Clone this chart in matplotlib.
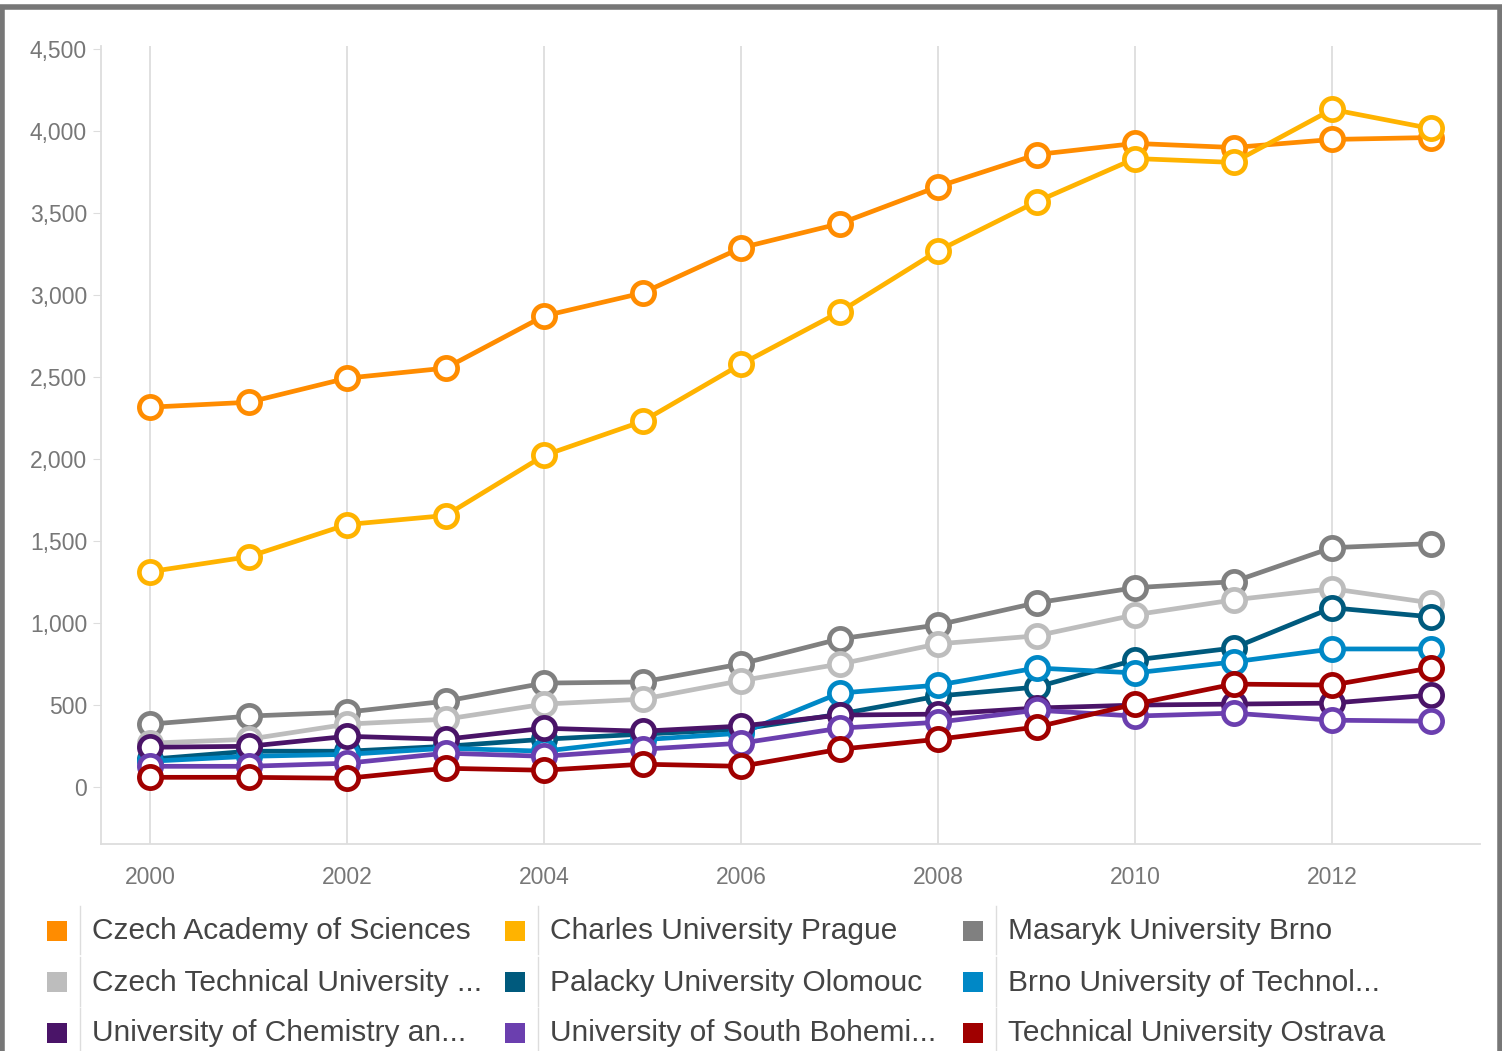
import matplotlib.pyplot as plt
from matplotlib.patches import Rectangle
from matplotlib.ticker import FuncFormatter

# ---------- DATA ----------
years = list(range(2000, 2014))

names = [
    "Czech Academy of Sciences", "Charles University Prague", "Masaryk University Brno",
    "Czech Technical University ...", "Palacky University Olomouc", "Brno University of Technol...",
    "University of Chemistry an...", "University of South Bohemi...", "Technical University Ostrava",
]
colors = ["#FF8C00", "#FFB300", "#808080", "#BDBDBD", "#005A7D",
          "#0088C6", "#4A1468", "#6B3FAF", "#A00000"]

academy = [2316, 2346, 2493, 2554, 2872, 3012, 3287, 3434, 3660, 3855, 3923, 3898, 3947, 3959]
charles = [1314, 1405, 1601, 1656, 2022, 2230, 2578, 2896, 3269, 3568, 3831, 3807, 4130, 4014]
masaryk = [385, 434, 458, 525, 635, 642, 752, 904, 990, 1124, 1216, 1253, 1460, 1485]
ctu = [269, 293, 385, 415, 507, 537, 650, 751, 874, 923, 1051, 1142, 1210, 1124]
palacky = [171, 220, 220, 250, 293, 324, 354, 446, 556, 611, 776, 849, 1094, 1039]
brno = [159, 189, 201, 238, 220, 290, 330, 574, 623, 727, 697, 764, 843, 843]
chemistry = [244, 250, 311, 293, 360, 342, 373, 440, 446, 483, 501, 507, 513, 562]
bohemia = [128, 128, 147, 208, 189, 232, 269, 360, 397, 470, 434, 452, 409, 403]
ostrava = [61, 61, 55, 116, 104, 141, 128, 232, 293, 367, 507, 629, 623, 727]

series = [academy, charles, masaryk, ctu, palacky, brno, chemistry, bohemia, ostrava]

plt.rcParams['font.family'] = ['Liberation Sans', 'DejaVu Sans']

# ---------- PLOT ----------
fig = plt.figure(figsize=(15.02, 10.51), dpi=100)
ax = fig.add_axes([0.0672, 0.197, 0.918, 0.759])

for vals, col in zip(series, colors):
    ax.plot(years, vals, '-o', color=col, lw=3.4, ms=16, mfc='white',
            mec=col, mew=3.4, solid_joinstyle='round')

ax.set_xlim(1999.5, 2013.5)
ax.set_ylim(-345, 4515)
ax.set_xticks(range(2000, 2014, 2))
ax.set_yticks(range(0, 4501, 500))
ax.yaxis.set_major_formatter(FuncFormatter(lambda v, p: f"{int(v):,}"))
ax.grid(axis='x', color='#DDDDDD', lw=1.3)
ax.set_axisbelow(True)
for s in ['top', 'right']:
    ax.spines[s].set_visible(False)
for s in ['left', 'bottom']:
    ax.spines[s].set_color('#DDDDDD')
    ax.spines[s].set_linewidth(1.3)
ax.tick_params(axis='y', length=6, color='#DDDDDD', labelsize=16.5, labelcolor='#777777', pad=4)
ax.tick_params(axis='x', length=0, labelsize=16.5, labelcolor='#777777', pad=16)

# ---------- LEGEND ----------
col_x = [0.031, 0.336, 0.641]
row_y = [0.114, 0.065, 0.017]
for i, (name, col) in enumerate(zip(names, colors)):
    x = col_x[i % 3]
    y = row_y[i // 3]
    fig.add_artist(Rectangle((x, y - 0.009), 0.0135, 0.019, transform=fig.transFigure,
                             color=col, lw=0))
    fig.add_artist(plt.Line2D([x + 0.022, x + 0.022], [y - 0.022, y + 0.024],
                              transform=fig.transFigure, color='#DDDDDD', lw=1))
    fig.text(x + 0.030, y, name, fontsize=21.5, color='#444444', va='center', ha='left')

# outer frame
fig.add_artist(Rectangle((0.001, -0.01), 0.998, 1.003, transform=fig.transFigure,
                         fill=False, edgecolor='#777777', lw=4))

fig.savefig("out.png", dpi=100)
